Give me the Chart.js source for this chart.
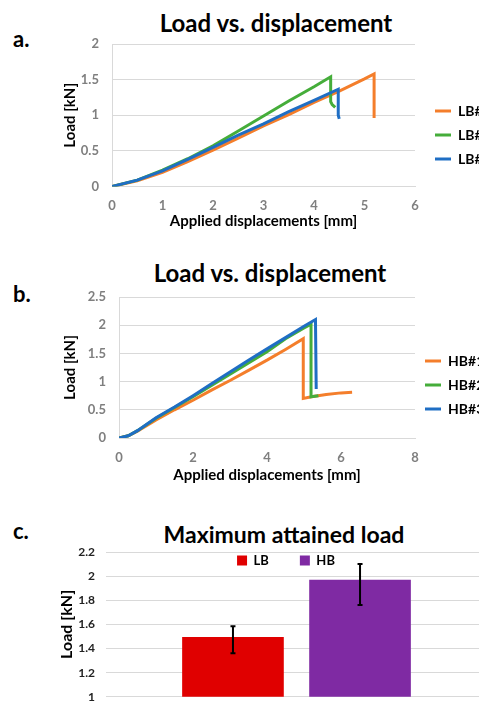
<!DOCTYPE html>
<html>
<head>
<meta charset="utf-8">
<script src="https://cdn.jsdelivr.net/npm/chart.js@4.4.0/dist/chart.umd.min.js"></script>
<style>
  html, body { margin: 0; padding: 0; width: 479px; height: 710px; overflow: hidden; background: #fff; }
  body { position: relative; font-family: Lato, "Open Sans", sans-serif; }
  canvas { position: absolute; left: 0; }
  .letter { position: absolute; left: 13px; font-size: 22px; font-weight: bold; line-height: 22px; color: #000; }
  .title { position: absolute; font-size: 24px; font-weight: bold; line-height: 24px; color: #000; white-space: nowrap; transform: translateX(-50%); }
</style>
</head>
<body>
<div class="title" style="left:276px; top:11px;">Load vs. displacement</div>
<div class="letter" style="top:28px;">a.</div>
<canvas id="chartA" width="479" height="240" style="top:0px;"></canvas>

<div class="title" style="left:270px; top:261px;">Load vs. displacement</div>
<div class="letter" style="top:283px;">b.</div>
<canvas id="chartB" width="479" height="240" style="top:250px;"></canvas>

<div class="title" style="left:284px; top:523px; font-size:23px; line-height:23px;">Maximum attained load</div>
<div class="letter" style="top:520px;">c.</div>
<canvas id="chartC" width="500" height="200" style="top:515px;"></canvas>

<script>
// ---- a. low bond specimens ----
const lb1X = [0, 0.5, 1, 1.5, 2, 2.5, 3, 3.5, 4, 4.5, 5, 5.19, 5.19];
const lb1Y = [0, 0.08, 0.2, 0.35, 0.51, 0.68, 0.85, 1.01, 1.18, 1.34, 1.51, 1.58, 0.96];
const lb2X = [0, 0.5, 1, 1.5, 2, 2.5, 3, 3.5, 4, 4.33, 4.33, 4.36, 4.42];
const lb2Y = [0, 0.09, 0.23, 0.39, 0.57, 0.78, 0.99, 1.2, 1.4, 1.54, 1.19, 1.15, 1.11];
const lb3X = [0, 0.5, 1, 1.5, 2, 2.5, 3, 3.5, 4, 4.48, 4.48, 4.5];
const lb3Y = [0, 0.09, 0.22, 0.38, 0.55, 0.72, 0.88, 1.05, 1.21, 1.365, 1.0, 0.95];
const lbNames = ["LB#1", "LB#2", "LB#3"];

// ---- b. high bond specimens ----
const hb1X = [0, 0.25, 0.5, 1, 1.5, 2, 2.5, 3, 3.5, 4, 4.5, 4.98, 4.98, 5.2, 5.6, 6, 6.3];
const hb1Y = [0, 0.04, 0.12, 0.32, 0.5, 0.67, 0.85, 1.02, 1.2, 1.38, 1.57, 1.76, 0.7, 0.73, 0.77, 0.8, 0.81];
const hb2X = [0, 0.25, 0.5, 1, 1.5, 2, 2.5, 3, 3.5, 4, 4.5, 5, 5.19, 5.19, 5.39];
const hb2Y = [0, 0.04, 0.13, 0.35, 0.54, 0.73, 0.93, 1.13, 1.33, 1.53, 1.76, 1.95, 2.02, 0.73, 0.75];
const hb3X = [0, 0.25, 0.5, 1, 1.5, 2, 2.5, 3, 3.5, 4, 4.5, 5, 5.31, 5.33];
const hb3Y = [0, 0.04, 0.13, 0.36, 0.55, 0.75, 0.96, 1.17, 1.38, 1.58, 1.78, 1.98, 2.1, 0.87];
const hbNames = ["HB#1", "HB#2", "HB#3"];

// ---- c. maximum attained load ----
const groups = ["Max load"];
const maxNames = ["LB", "HB"];
const maxLoad = [1.495, 1.97];
const errLow = [1.36, 1.76];
const errHigh = [1.585, 2.1];

const seriesColors = ["#f47e2b", "#45ad3a", "#1f6ec4"];
const gridGray = "#d9d9d9";

const toPoints = (xs, ys) => xs.map((x, i) => ({ x: x, y: ys[i] }));
const plainNum = (v) => String(Number(v.toFixed(2)));

// moves the legend box after layout (Excel-like legend placement)
const legendShift = {
  id: "legendShift",
  afterLayout(chart, args, opts) {
    const lg = chart.legend;
    if (!lg) return;
    lg.left += opts.dx || 0;
    lg.top += opts.dy || 0;
    lg.bottom += opts.dy || 0;
    lg.right = chart.width; // let the labels run off the edge like the original
  },
};

const errorBars = {
  id: "errorBars",
  afterDatasetsDraw(chart) {
    const { ctx, scales } = chart;
    ctx.save();
    ctx.strokeStyle = "#000";
    ctx.lineWidth = 2;
    maxLoad.forEach((v, i) => {
      const bar = chart.getDatasetMeta(i).data[0];
      const top = scales.y.getPixelForValue(errHigh[i]);
      const bot = scales.y.getPixelForValue(errLow[i]);
      ctx.beginPath();
      ctx.moveTo(bar.x, top);
      ctx.lineTo(bar.x, bot);
      ctx.moveTo(bar.x - 2.5, top);
      ctx.lineTo(bar.x + 2.5, top);
      ctx.moveTo(bar.x - 2.5, bot);
      ctx.lineTo(bar.x + 2.5, bot);
      ctx.stroke();
    });
    ctx.restore();
  },
};

const tickFont = { family: "Lato", size: 13, weight: "bold" };
const axisTitleFont = { family: "Lato", size: 15, weight: "bold" };

function lineChart(id, names, series, xMax, xStep, yMax, yStep, yWidth, xHeight, pad, shift) {
  return new Chart(document.getElementById(id), {
    type: "line",
    data: {
      datasets: series.map((pts, i) => ({
        label: names[i],
        data: pts,
        borderColor: seriesColors[i],
        backgroundColor: seriesColors[i],
        borderWidth: 3,
        pointRadius: 0,
        tension: 0,
        order: series.length - i,
      })),
    },
    options: {
      responsive: false,
      animation: false,
      layout: { padding: pad },
      scales: {
        x: {
          type: "linear",
          min: 0,
          max: xMax,
          ticks: { stepSize: xStep, color: "#7f7f7f", font: tickFont, padding: 12, callback: plainNum },
          grid: { display: false, drawTicks: false },
          border: { display: true, color: gridGray },
          title: { display: true, text: "Applied displacements [mm]", color: "#000", font: axisTitleFont, padding: { top: 1, bottom: 4 } },
          afterFit(scale) {
            scale.height = xHeight;
          },
        },
        y: {
          min: 0,
          max: yMax,
          ticks: { stepSize: yStep, color: "#7f7f7f", font: tickFont, padding: 13, callback: plainNum },
          grid: { color: gridGray, drawTicks: false },
          border: { display: true, color: gridGray },
          title: { display: true, text: "Load [kN]", color: "#000", font: axisTitleFont },
          afterFit(scale) {
            scale.width = yWidth;
          },
        },
      },
      plugins: {
        legend: {
          position: "right",
          align: "start",
          reverse: true,
          maxWidth: 44,
          labels: {
            usePointStyle: true,
            pointStyle: "line",
            pointStyleWidth: 16,
            color: "#000",
            font: { family: "Lato", size: 14, weight: "bold" },
            padding: 10,
          },
        },
        tooltip: { enabled: false },
        legendShift: shift,
      },
    },
    plugins: [legendShift],
  });
}

lineChart("chartA", lbNames,
  [toPoints(lb1X, lb1Y), toPoints(lb2X, lb2Y), toPoints(lb3X, lb3Y)],
  6, 1, 2, 0.5, 55, 47.5,
  { left: 57, top: 44, right: 20, bottom: 6 },
  { dx: 10, dy: 50 });

lineChart("chartB", hbNames,
  [toPoints(hb1X, hb1Y), toPoints(hb2X, hb2Y), toPoints(hb3X, hb3Y)],
  8, 2, 2.5, 0.5, 62, 50,
  { left: 57, top: 47, right: 20, bottom: 2 },
  { dx: 0, dy: 47 });

new Chart(document.getElementById("chartC"), {
  type: "bar",
  data: {
    labels: groups,
    datasets: [
      { label: maxNames[0], data: [maxLoad[0]], backgroundColor: "#e00000" },
      { label: maxNames[1], data: [maxLoad[1]], backgroundColor: "#7f2aa3" },
    ],
  },
  options: {
    responsive: false,
    animation: false,
    categoryPercentage: 0.667,
    barPercentage: 0.8,
    layout: { padding: { left: 53, top: -17, right: 13, bottom: 8 } },
    scales: {
      x: {
        ticks: { display: false },
        grid: { display: false, drawTicks: false },
        border: { display: false },
      },
      y: {
        min: 1,
        max: 2.2,
        ticks: { stepSize: 0.2, color: "#222", font: { family: "Lato", size: 12, weight: "bold" }, padding: 11, callback: plainNum },
        grid: { color: gridGray, drawTicks: false },
        border: { display: false },
        title: { display: true, text: "Load [kN]", color: "#000", font: { family: "Lato", size: 16, weight: "bold" } },
        afterFit(scale) {
          scale.width = 53;
        },
      },
    },
    plugins: {
      legend: {
        position: "top",
        labels: {
          boxWidth: 10,
          boxHeight: 10,
          color: "#000",
          font: { family: "Lato", size: 13, weight: "bold" },
          padding: 31,
        },
      },
      tooltip: { enabled: false },
      legendShift: { dx: 19, dy: 25 },
    },
  },
  plugins: [legendShift, errorBars],
});
</script>
</body>
</html>
